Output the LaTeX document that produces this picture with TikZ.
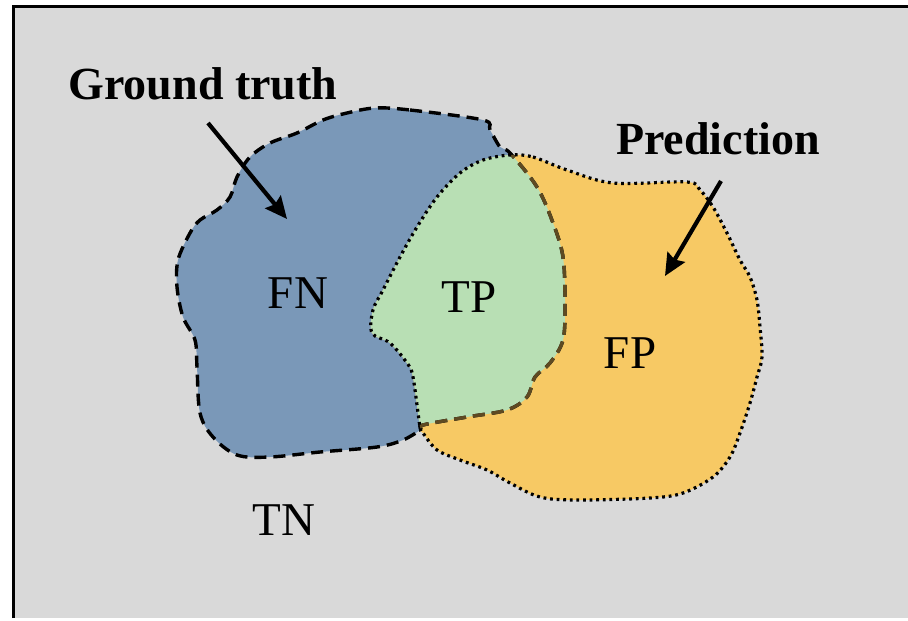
\documentclass[tikz,border=0pt]{standalone}
\usepackage{fontspec}
\setmainfont{Liberation Serif}
\usetikzlibrary{arrows.meta}
\definecolor{bgc}{HTML}{D9D9D9}
\definecolor{gtblue}{HTML}{7A98B8}
\definecolor{prorange}{HTML}{F7C964}
\definecolor{tpgreen}{HTML}{B8DFB4}
\definecolor{dashbrown}{HTML}{5E4A22}
\tikzset{
  lbl/.style={font=\fontsize{23.5}{26}\selectfont, inner sep=0pt},
  title/.style={font=\bfseries\fontsize{23}{26}\selectfont, inner sep=0pt},
  gtline/.style={line width=1.7pt, dash pattern=on 6pt off 3.5pt},
  prline/.style={line width=1.6pt, dash pattern=on 1.4pt off 1.9pt},
  pointer/.style={line width=2.1pt, -{Stealth[length=11pt,width=10pt,inset=1.5pt]}}
}
\def\gtpath{plot[smooth cycle, tension=0.55] coordinates {(375,108) (410,110) (483,120) (490,130) (500,147) (510,153) (537,187) (553,223) (563,257) (565,303) (563,340) (550,363) (535,377) (527,397) (507,410) (467,417) (423,425) (420,430) (403,440) (377,447) (320,452) (270,457) (237,455) (213,437) (200,413) (197,367) (195,340) (183,317) (177,287) (178,260) (190,233) (200,220) (217,210) (230,197) (237,177) (250,157) (270,143) (297,133) (323,120) (347,113)}}
\def\prpath{plot[smooth cycle, tension=0.55] coordinates {(510,155) (533,157) (567,170) (613,183) (687,182) (700,190) (713,207) (727,233) (740,260) (750,277) (757,300) (760,327) (762,357) (757,377) (750,403) (740,433) (730,457) (713,477) (683,493) (650,498) (577,500) (540,497) (510,483) (487,470) (460,460) (437,450) (423,433) (420,427) (413,377) (407,363) (390,343) (372,333) (373,310) (383,290) (400,257) (417,227) (437,197) (460,173) (483,160)}}
\begin{document}
\begin{tikzpicture}[x=0.5pt, y=-0.5pt]
\useasboundingbox (0,0) rectangle (908,620);
\fill[white] (0,0) rectangle (908,620);
\fill[bgc] (13,7) rectangle (908,618);
\draw[line width=1.5pt] (13,618) -- (13,7) -- (908,7);
% regions
\fill[gtblue] \gtpath;
\fill[prorange] \prpath;
\begin{scope}
  \clip \gtpath;
  \fill[tpgreen] \prpath;
\end{scope}
\draw[gtline] \gtpath;
\begin{scope}
  \clip \prpath;
  \draw[gtline, dashbrown] \gtpath;
\end{scope}
\draw[prline] \prpath;
% labels
\node[lbl, anchor=base] (fn) at (298,308) {FN};
\node[lbl, anchor=base] (tp) at (469,312) {TP};
\node[lbl, anchor=base] (fp) at (630,368) {FP};
\node[lbl, anchor=base] (tn) at (284,535) {TN};
\node[title, anchor=base] (gt) at (203,100) {Ground truth};
\node[title, anchor=base] (pr) at (718,155) {Prediction};
% arrows
\coordinate (gtA) at (208,123);
\coordinate (gtB) at (287,219);
\coordinate (prA) at (721,181);
\coordinate (prB) at (665,276);
\draw[pointer] (gtA) -- (gtB);
\draw[pointer] (prA) -- (prB);
\end{tikzpicture}
\end{document}
